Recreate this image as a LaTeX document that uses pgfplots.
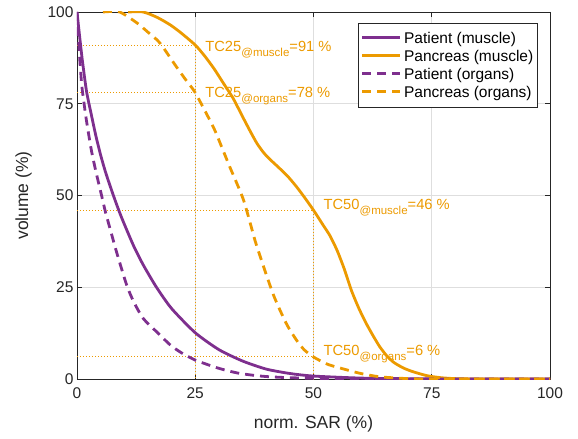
\documentclass[border=0pt]{standalone}
\usepackage{pgfplots}
\pgfplotsset{compat=1.18}
\usepackage{fontspec}
\setmainfont{Liberation Sans}
\definecolor{mpurple}{RGB}{126,47,142}
\definecolor{morange}{RGB}{236,154,0}
\definecolor{axgray}{RGB}{38,38,38}

% patient, muscle reference
\pgfplotstableread{
x y
0 100
1 88.2
2 78.5
3 72.2
4 66.2
5 61
6 56.5
7 52.6
8 48.9
9 45.4
10 42.2
12 36.2
14 31.1
16.8 25
20 19.2
25 12.6
30 8
35 4.9
40 2.7
45 1.5
50 0.8
60 0.25
70 0.08
80 0
100 0
}\patmus
% patient, organs reference
\pgfplotstableread{
x y
0 100
0.5 88.8
1 80.1
1.5 75
2 70.4
3 62.6
4 56.5
5.2 50
6 45.6
7.3 39.5
8.5 34
10.5 25.6
12 21
14 16.5
16.8 12.9
19.7 9.3
22 7.2
24.9 5.2
27 4.2
29.5 3.1
32 2.2
34.5 1.5
38 0.9
40.8 0.6
45 0.35
50 0.2
60 0.05
70 0
100 0
}\patorg
% pancreas, muscle reference
\pgfplotstableread{
x y
10.8 100
14 100
17 98.5
19.7 96.5
22 94.3
25 91
27 88
29 84.5
31 80.5
33 76.5
35 71.5
36.5 67.8
38 64.3
39.5 61.6
41 59.6
42.5 57.8
44.5 55.3
46.4 52.4
48.2 49.3
50 46
52 42
53.5 39
55 35
56.5 30
58 24.2
59.5 19.5
61 15.5
62.5 12
64 8.8
65.5 6.3
67 4.5
69 3
71 2
74 0.9
77 0.35
80 0.1
85 0
100 0
}\panmus
% pancreas, organs reference
\pgfplotstableread{
x y
5.5 100
9 100
12.7 97
15 94.5
17.5 91.6
21 85.1
23 81.5
25 78
28.8 68.7
30.5 63.5
32.3 57.8
35.2 48.8
37.6 37.9
38.7 33.5
40 28.5
41.5 23
42.9 18.8
44.5 14.5
46.4 10.6
48 8
50 6
53 4
57 2.5
60 1.5
64 0.6
70 0.1
75 0
100 0
}\panorg

\begin{document}
\begin{tikzpicture}
\useasboundingbox (-77bp,-60bp) rectangle (501bp,379bp);
\begin{axis}[
    scale only axis,
    width=473bp, height=367bp,
    xmin=0, xmax=100, ymin=0, ymax=100,
    xtick={0,25,50,75,100},
    ytick={0,25,50,75,100},
    grid=major,
    grid style={black!13, line width=0.6bp},
    axis line style={axgray, line width=0.8bp},
    tick style={axgray, line width=0.8bp},
    tick align=inside,
    major tick length=5bp,
    /pgf/number format/assume math mode=true,
    ticklabel style={font=\fontsize{15.5bp}{18bp}\selectfont, text=axgray},
    xticklabel style={yshift=-5bp},
    xlabel={norm. SAR (\%)},
    ylabel={volume (\%)},
    xlabel shift=10bp,
    ylabel shift=9bp,
    label style={font=\fontsize{17.5bp}{20bp}\selectfont, text=axgray},
    legend style={at={(0.975,0.97)}, anchor=north east, draw=axgray,
        line width=0.8bp, fill=white,
        font=\fontsize{15.5bp}{18bp}\selectfont,
        inner xsep=2bp, inner ysep=6bp,
        nodes={inner sep=2.5bp}, row sep=0.3bp},
    legend cell align=left,
    legend image code/.code={\path[draw, #1, line width=2.8bp, line cap=butt] (0bp,0.5bp) -- (38bp,0.5bp);},
]
% reference lines
\addplot[morange, line width=1bp, dash pattern=on 1bp off 2bp, forget plot]
    coordinates {(0,91) (25,91) (25,0)};
\addplot[morange, line width=1bp, dash pattern=on 1bp off 2bp, forget plot]
    coordinates {(0,78) (25,78)};
\addplot[morange, line width=1bp, dash pattern=on 1bp off 2bp, forget plot]
    coordinates {(0,46) (50,46) (50,0)};
\addplot[morange, line width=1bp, dash pattern=on 1bp off 2bp, forget plot]
    coordinates {(0,6) (50,6)};

\addplot[mpurple, line width=2.8bp, smooth, tension=0.4] table {\patmus};
\addlegendentry{Patient (muscle)}
\addplot[morange, line width=2.8bp, smooth, tension=0.4] table {\panmus};
\addlegendentry{Pancreas (muscle)}
\addplot[mpurple, line width=2.8bp, dash pattern=on 9bp off 6bp, smooth, tension=0.4] table {\patorg};
\addlegendentry{Patient (organs)}
\addplot[morange, line width=2.8bp, dash pattern=on 9bp off 6bp, smooth, tension=0.4] table {\panorg};
\addlegendentry{Pancreas (organs)}

\node[anchor=base west, inner sep=0, text=morange, font=\fontsize{14.7bp}{17bp}\selectfont]
    at (axis cs:27.1,89.2) {TC25\raisebox{-5bp}{\fontsize{11.5bp}{12bp}\selectfont @muscle}=91 \%};
\node[anchor=base west, inner sep=0, text=morange, font=\fontsize{14.7bp}{17bp}\selectfont]
    at (axis cs:27.1,76.7) {TC25\raisebox{-5bp}{\fontsize{11.5bp}{12bp}\selectfont @organs}=78 \%};
\node[anchor=base west, inner sep=0, text=morange, font=\fontsize{14.7bp}{17bp}\selectfont]
    at (axis cs:52.1,46.2) {TC50\raisebox{-5bp}{\fontsize{11.5bp}{12bp}\selectfont @muscle}=46 \%};
\node[anchor=base west, inner sep=0, text=morange, font=\fontsize{14.7bp}{17bp}\selectfont]
    at (axis cs:52.1,6.3) {TC50\raisebox{-5bp}{\fontsize{11.5bp}{12bp}\selectfont @organs}=6 \%};
\end{axis}
\end{tikzpicture}
\end{document}
